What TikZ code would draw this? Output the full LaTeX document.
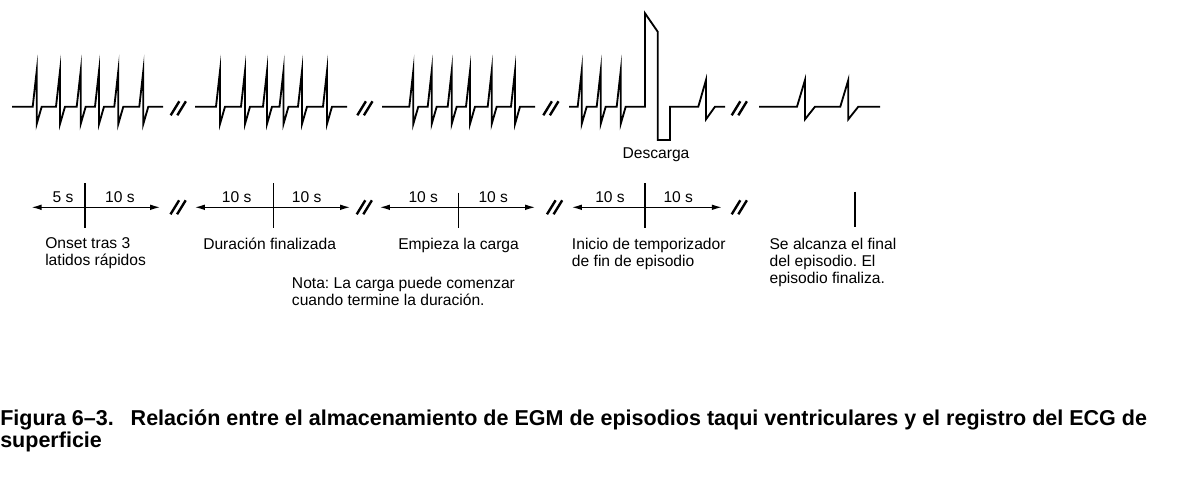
\documentclass[tikz,border=0pt]{standalone}
\usepackage{fontspec}
\setmainfont{Liberation Sans}
\usetikzlibrary{arrows.meta}
\frenchspacing

\begin{document}
\begin{tikzpicture}[x=0.025cm,y=-0.025cm,
    ecg/.style={line width=1.3pt,line join=miter,miter limit=20},
    taglio/.style={line width=1.7pt},
    tempo/.style={line width=0.8pt,{Latex[length=7pt,width=4pt]}-{Latex[length=7pt,width=4pt]}},
    tacca/.style={line width=0.8pt},
    testo/.style={font=\fontsize{11.1}{12.1}\selectfont,inner sep=0pt,align=left},
    didascalia/.style={font=\fontsize{15.3}{18}\selectfont\bfseries,inner sep=0pt}]
        \useasboundingbox (0,0) rectangle (1199,485);
        %trazado ECG, taquicardia
        \draw[ecg] (12,106.7) foreach \p in {36.7,60,80.7,99,118.3,143.3}{ -- (\p-4,106.7) -- (\p,71) -- (\p,124) -- (\p+5,106.7)} -- (163,106.7);
        \draw[ecg] (195,106.7) foreach \p in {220,245,267,283.5,302,327}{ -- (\p-4,106.7) -- (\p,71) -- (\p,124) -- (\p+5,106.7)} -- (347,106.7);
        \draw[ecg] (382,106.7) foreach \p in {413.3,431.7,451.7,470,491.7,515}{ -- (\p-4,106.7) -- (\p,71) -- (\p,124) -- (\p+5,106.7)} -- (535,106.7);
        %descarga y ritmo lento
        \draw[ecg] (569,106.7) foreach \p in {581.7,600.7,620.7}{ -- (\p-4,106.7) -- (\p,71) -- (\p,124) -- (\p+5,106.7)} -- (645,106.7) --++ (0,-93.4) --++ (12.7,18.4) --++ (0,108.3) --++ (12.3,0) --++ (0,-33.3) -- (698.3,106.7) -- (706,80) -- (706,119.3) -- (715,106.7) -- (725,106.7);
        \draw[ecg] (759,106.7) foreach \p in {805,848.3}{ -- (\p-8,106.7) -- (\p,80) -- (\p,119.3) -- (\p+10,106.7)} -- (880,106.7);
        \node[testo,anchor=base] (descarga) at (656,158.6) {Descarga};
        %cortes
        \foreach \c in {170.7,357.3,543.3,731.7}
            \draw[taglio] (\c,115.3) --++ (8.6,-14) (\c+6.6,115.3) --++ (8.6,-14);
        \foreach \c in {170.5,356.7,547,731.7}
            \draw[taglio] (\c,214.3) --++ (8.6,-14) (\c+6.6,214.3) --++ (8.6,-14);
        %escala de tiempos
        \coordinate (a1) at (31.7,207.3);
        \coordinate (b1) at (160,207.3);
        \coordinate (a2) at (195,207.3);
        \coordinate (b2) at (350,207.3);
        \coordinate (a3) at (380,207.3);
        \coordinate (b3) at (535,207.3);
        \coordinate (a4) at (572,207.3);
        \coordinate (b4) at (721.7,207.3);
        \draw[tempo] (a1) -- (b1);
        \draw[tempo] (a2) -- (b2);
        \draw[tempo] (a3) -- (b3);
        \draw[tempo] (a4) -- (b4);
        \draw[tacca] (85,183.3) --++ (0,45);
        \draw[tacca] (273.3,183.3) --++ (0,45);
        \draw[tacca] (458.3,192.7) --++ (0,35.6);
        \draw[tacca] (645,183.3) --++ (0,45);
        \draw[tacca] (855,191.7) --++ (0,35);
        %duraciones
        \node[testo,anchor=base] (d1) at (63,202.5) {5 s};
        \node[testo,anchor=base] (d2) at (120,202.5) {10 s};
        \node[testo,anchor=base] (d3) at (236.7,202.5) {10 s};
        \node[testo,anchor=base] (d4) at (306.7,202.5) {10 s};
        \node[testo,anchor=base] (d5) at (423.3,202.5) {10 s};
        \node[testo,anchor=base] (d6) at (493.3,202.5) {10 s};
        \node[testo,anchor=base] (d7) at (610,202.5) {10 s};
        \node[testo,anchor=base] (d8) at (678.3,202.5) {10 s};
        %eventos
        \node[testo,anchor=north west] (onset) at (45,237.5) {Onset tras 3\\latidos rápidos};
        \node[testo,anchor=north west] (durfin) at (203,237.5) {Duración finalizada};
        \node[testo,anchor=north west] (carga) at (398,237.5) {Empieza la carga};
        \node[testo,anchor=north west] (nota) at (291.7,277) {Nota: La carga puede comenzar\\cuando termine la duración.};
        \node[testo,anchor=north west] (temporiz) at (571.7,237.5) {Inicio de temporizador\\de fin de episodio};
        \node[testo,anchor=north west] (fin) at (769.3,237.5) {Se alcanza el final\\del episodio. El\\episodio finaliza.};
        %pie de figura
        \node[didascalia,anchor=base west] (pie) at (0,425) {Figura 6–3.\hspace{12pt}Relación entre el almacenamiento de EGM de episodios taqui ventriculares y el registro del ECG de};
        \node[didascalia,anchor=base west] (pie2) at (0,447) {superficie};
\end{tikzpicture}
\end{document}
